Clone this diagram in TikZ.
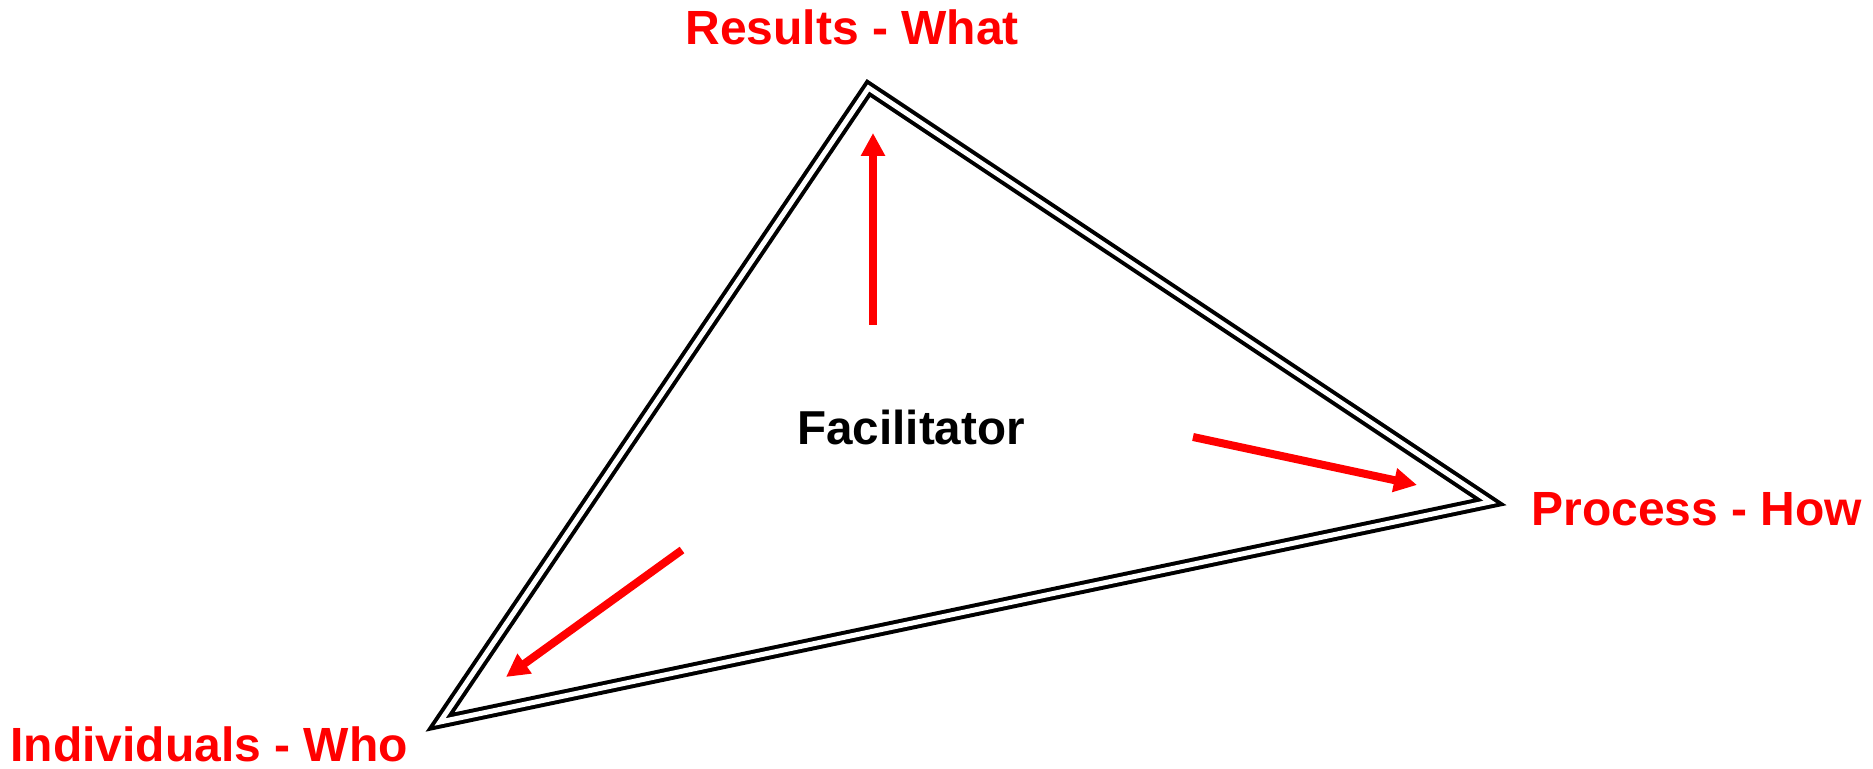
\documentclass[tikz,border=0pt]{standalone}
\usepackage{fontspec}
\setmainfont{Liberation Sans}
\usepackage{tikz}
\usetikzlibrary{arrows.meta,positioning}
\begin{document}
\begin{tikzpicture}[x=0.5pt, y=-0.5pt, font=\bfseries\fontsize{24}{29}\selectfont]
\tikzstyle{lbl}=[text=red, inner sep=0pt, anchor=base west]
\tikzstyle{tri}=[draw=black, line width=2pt, double=white, double distance=2.5pt, line join=miter]
\tikzstyle{arr}=[draw=red, line width=4pt, -{Triangle[length=11.5pt, width=11.5pt]}]
\useasboundingbox (0,0) rectangle (1873,769);
% corners of the triangle
\coordinate (top) at (868.5,88);
\coordinate (rgt) at (1490,502);
\coordinate (lft) at (440,722);
\draw[tri] (top) -- (rgt) -- (lft) -- cycle;
% labels
\node[lbl] (what) at (685,45) {Results - What};
\node[lbl] (how) at (1531,525) {Process - How};
\node[lbl] (who) at (10,761) {Individuals - Who};
\node[inner sep=0pt, anchor=base west, font=\bfseries\fontsize{23.8}{28}\selectfont] (fac) at (797,445) {Facilitator};
% arrows
\coordinate (upS) at (873,325);  \coordinate (upE) at (873,133);
\coordinate (rtS) at (1193,437); \coordinate (rtE) at (1417,485);
\coordinate (lfS) at (682,550);  \coordinate (lfE) at (506,677);
\draw[arr] (upS) -- (upE);
\draw[arr] (rtS) -- (rtE);
\draw[arr] (lfS) -- (lfE);
\end{tikzpicture}
\end{document}
